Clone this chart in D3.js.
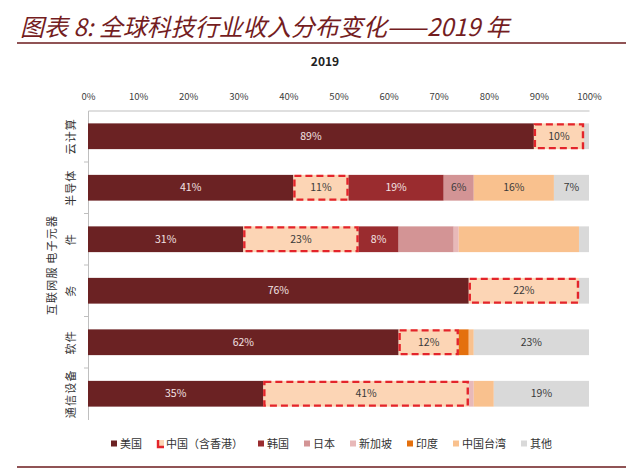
<!DOCTYPE html>
<html>
<head>
<meta charset="utf-8">
<script src="https://cdn.jsdelivr.net/npm/d3@7"></script>
<style>
  body { margin: 0; background: #fff; }
  text { font-family: "Noto Sans CJK SC", "Noto Sans", sans-serif; }
</style>
</head>
<body>
<div id="chart"></div>
<script>
// Data (shares in %)
const categories = ["云计算", "半导体", "电子元器件", "互联网服务", "软件", "通信设备"];
const categoryLines = [["云计算"], ["半导体"], ["电子元器", "件"], ["互联网服", "务"], ["软件"], ["通信设备"]];
const regions = ["美国", "中国（含香港）", "韩国", "日本", "新加坡", "印度", "中国台湾", "其他"];
const usa = [89, 41, 31, 76, 62, 35];
const china = [10, 11, 23, 22, 12, 41];
const korea = [0, 19, 8, 0, 0, 0];
const japan = [0, 6, 11, 0, 0, 0];
const singapore = [0, 0, 1, 0, 0, 1];
const india = [0, 0, 0, 0, 2, 0];
const taiwan = [0, 16, 24, 0, 1, 4];
const other = [1, 7, 2, 2, 23, 19];
const xTicks = [0, 10, 20, 30, 40, 50, 60, 70, 80, 90, 100];
// segments whose value is not printed in the original
const hiddenLabels = [["电子元器件", "日本"], ["电子元器件", "中国台湾"], ["通信设备", "中国台湾"]];

const seriesValues = [usa, china, korea, japan, singapore, india, taiwan, other];
const colors = ["#6b2223", "#fcd5b5", "#9a2c2f", "#d39495", "#e8b9b9", "#e4700d", "#f9c18e", "#d9d9d9"];
const textColors = ["#f3e3e3", "#3a3a3a", "#f3e3e3", "#3a3a3a", "#3a3a3a", "#3a3a3a", "#3a3a3a", "#3a3a3a"];

const width = 640, height = 470;
const margin = { top: 110.5, right: 51, bottom: 50.5, left: 88 };

const svg = d3.select("#chart")
    .append("svg")
    .attr("width", width)
    .attr("height", height);

// Table for the stack layout
const table = categories.map((c, i) => {
    const row = { category: c };
    regions.forEach((r, k) => { row[r] = seriesValues[k][i]; });
    return row;
});
const stacked = d3.stack().keys(regions)(table);

const x = d3.scaleLinear()
    .domain([0, 100])
    .range([margin.left, width - margin.right]);

const y = d3.scaleBand()
    .domain(categories)
    .range([margin.top, height - margin.bottom])
    .paddingInner(0.5)
    .paddingOuter(0.25);

// Title and rules
svg.append("text")
    .attr("x", 20)
    .attr("y", 36)
    .attr("font-size", 24)
    .attr("font-style", "italic")
    .attr("fill", "#741d1f")
    .text("图表 8:  全球科技行业收入分布变化——2019 年");

svg.append("line")
    .attr("x1", 17).attr("x2", 626)
    .attr("y1", 43).attr("y2", 43)
    .attr("stroke", "#6b1a1c").attr("stroke-width", 1.5);

svg.append("line")
    .attr("x1", 17).attr("x2", 626)
    .attr("y1", 467).attr("y2", 467)
    .attr("stroke", "#6b1a1c").attr("stroke-width", 1.5);

svg.append("text")
    .attr("x", 325)
    .attr("y", 66)
    .attr("text-anchor", "middle")
    .attr("font-size", 12)
    .attr("font-weight", "bold")
    .attr("fill", "#222")
    .text("2019");

// Top axis
const xAxis = svg.append("g")
    .attr("transform", `translate(0,${margin.top})`)
    .call(d3.axisTop(x).tickValues(xTicks).tickFormat(d => d + "%").tickSize(0).tickPadding(11));
xAxis.select(".domain").attr("stroke", "#bfbfbf");
xAxis.selectAll("text")
    .attr("font-family", "Noto Sans, sans-serif")
    .attr("font-size", 9.5)
    .attr("fill", "#404040");

// Left axis with ticks on band boundaries
const yAxis = svg.append("g")
    .attr("transform", `translate(${margin.left},0)`)
    .call(d3.axisLeft(y).tickSize(0).tickFormat(""));
yAxis.select(".domain").attr("stroke", "#bfbfbf");
yAxis.selectAll(".tick").remove();
yAxis.selectAll(".sep")
    .data(categories.slice(1))
    .join("line")
    .attr("class", "sep")
    .attr("x1", -4).attr("x2", 0)
    .attr("y1", d => y(d) - y.step() * y.paddingInner() / 2)
    .attr("y2", d => y(d) - y.step() * y.paddingInner() / 2)
    .attr("stroke", "#bfbfbf");

// Rotated category labels
categories.forEach((c, i) => {
    const lines = categoryLines[i];
    const cy = y(c) + y.bandwidth() / 2;
    lines.forEach((t, j) => {
        const lx = lines.length === 1 ? 71 : (j === 0 ? 52 : 71);
        svg.append("text")
            .attr("transform", `translate(${lx + 4},${cy}) rotate(-90)`)
            .attr("text-anchor", "middle")
            .attr("font-size", 11)
            .attr("letter-spacing", 1.2)
            .attr("fill", "#333")
            .text(t);
    });
});

// Bars
const layers = svg.append("g")
    .selectAll("g")
    .data(stacked)
    .join("g")
    .attr("fill", (d, i) => colors[i]);

layers.selectAll("rect")
    .data(d => d)
    .join("rect")
    .attr("x", d => x(d[0]))
    .attr("y", d => y(d.data.category))
    .attr("width", d => x(d[1]) - x(d[0]))
    .attr("height", y.bandwidth());

// Red dashed outline around the China segment
const chinaLayer = stacked[1];
svg.append("g")
    .selectAll("rect")
    .data(chinaLayer)
    .join("rect")
    .attr("x", d => x(d[0]) + 1)
    .attr("y", d => y(d.data.category) + 1)
    .attr("width", d => x(d[1]) - x(d[0]) - 2)
    .attr("height", y.bandwidth() - 2)
    .attr("fill", "none")
    .attr("stroke", "#e3242b")
    .attr("stroke-width", 2.4)
    .attr("stroke-dasharray", "7,4");

// Value labels
const isHidden = (cat, key) => hiddenLabels.some(h => h[0] === cat && h[1] === key);
stacked.forEach((layer, k) => {
    svg.append("g")
        .selectAll("text")
        .data(layer.filter(d => d[1] - d[0] >= 5 && !isHidden(d.data.category, layer.key)))
        .join("text")
        .attr("x", d => (x(d[0]) + x(d[1])) / 2)
        .attr("y", d => y(d.data.category) + y.bandwidth() / 2)
        .attr("dy", "0.35em")
        .attr("text-anchor", "middle")
        .attr("font-family", "Noto Sans, sans-serif")
        .attr("font-size", 10.5)
        .attr("fill", textColors[k])
        .text(d => (d[1] - d[0]) + "%");
});

// Legend
const legend = svg.append("g").attr("transform", "translate(111,444)");
let lx = 0;
regions.forEach((r, k) => {
    const item = legend.append("g").attr("transform", `translate(${lx},0)`);
    if (k === 1) {
        item.append("rect")
            .attr("x", 0).attr("y", -4).attr("width", 7).attr("height", 7)
            .attr("fill", colors[k]);
        item.append("path")
            .attr("d", "M1,-4V3H7")
            .attr("fill", "none")
            .attr("stroke", "#e3242b")
            .attr("stroke-width", 2.4);
    } else {
        item.append("rect")
            .attr("x", 0).attr("y", -3.5).attr("width", 6).attr("height", 6)
            .attr("fill", colors[k]);
    }
    const t = item.append("text")
        .attr("x", 9)
        .attr("y", 0)
        .attr("dy", "0.35em")
        .attr("font-size", 11)
        .attr("fill", "#333")
        .text(r);
    lx += 9 + t.node().getComputedTextLength() + 15;
});
</script>
</body>
</html>
